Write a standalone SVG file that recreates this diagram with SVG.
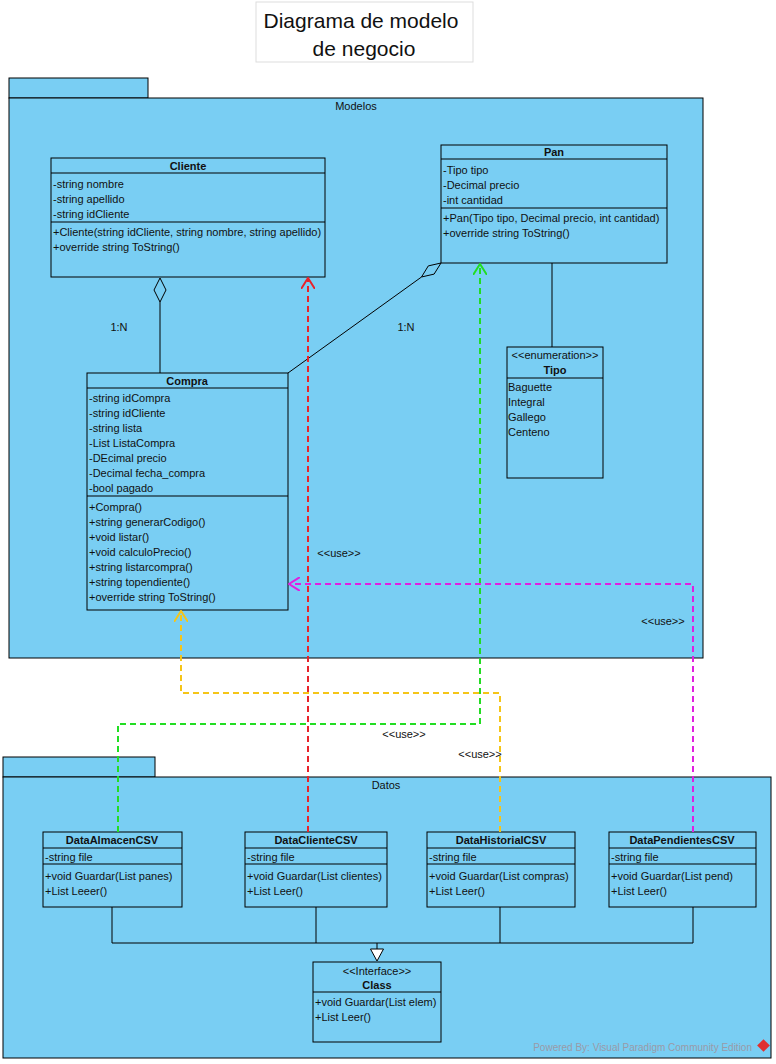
<svg xmlns="http://www.w3.org/2000/svg" width="776" height="1064" viewBox="0 0 776 1064">
<style>
text{font-family:"Liberation Sans",Arial,sans-serif;fill:#111}
.t{font-size:11px}
.b{font-size:11px;font-weight:bold}
.c{text-anchor:middle}
.box{fill:#79cef3;stroke:#000;stroke-width:1}
.ln{stroke:#000;stroke-width:1;fill:none}
.pkg{fill:#79cef3;stroke:#000;stroke-width:1}
.dr{stroke:#e8222a;stroke-width:2;stroke-dasharray:6,4;fill:none}
.dg{stroke:#22dd22;stroke-width:2;stroke-dasharray:6,4;fill:none}
.dy{stroke:#f5c518;stroke-width:2;stroke-dasharray:6,4;fill:none}
.dm{stroke:#e020e0;stroke-width:2;stroke-dasharray:6,4;fill:none}
</style>
<defs>
<marker id="ar" viewBox="0 0 12 14" refX="11" refY="7" markerWidth="12" markerHeight="14" markerUnits="userSpaceOnUse" orient="auto"><path d="M0,0 L11,7 L0,14" fill="none" stroke="#e8222a" stroke-width="2"/></marker>
<marker id="ag" viewBox="0 0 12 14" refX="11" refY="7" markerWidth="12" markerHeight="14" markerUnits="userSpaceOnUse" orient="auto"><path d="M0,0 L11,7 L0,14" fill="none" stroke="#22dd22" stroke-width="2"/></marker>
<marker id="ay" viewBox="0 0 12 14" refX="11" refY="7" markerWidth="12" markerHeight="14" markerUnits="userSpaceOnUse" orient="auto"><path d="M0,0 L11,7 L0,14" fill="none" stroke="#f5c518" stroke-width="2"/></marker>
<marker id="am" viewBox="0 0 12 14" refX="11" refY="7" markerWidth="12" markerHeight="14" markerUnits="userSpaceOnUse" orient="auto"><path d="M0,0 L11,7 L0,14" fill="none" stroke="#e020e0" stroke-width="2"/></marker>
</defs>
<rect width="776" height="1064" fill="#fff"/>

<g id="title">
<rect x="256" y="2" width="217" height="60" fill="#fff" stroke="#ddd"/>
<text x="361" y="28" class="c" style="font-size:21px">Diagrama de modelo</text>
<text x="364" y="56" class="c" style="font-size:21px">de negocio</text>
</g>

<g id="pkg-modelos">
<rect class="pkg" x="9" y="78" width="139" height="20"/>
<rect class="pkg" x="9" y="98" width="694" height="560"/>
<text x="356" y="110" class="t c">Modelos</text>
</g>

<g id="pkg-datos">
<rect class="pkg" x="3" y="757" width="152" height="20"/>
<rect class="pkg" x="3" y="777" width="768" height="281"/>
<text x="386" y="789" class="t c">Datos</text>
</g>

<g id="Cliente">
<rect class="box" x="51" y="158" width="274" height="119"/>
<line class="ln" x1="51" y1="173" x2="325" y2="173"/>
<line class="ln" x1="51" y1="222" x2="325" y2="222"/>
<text x="188" y="170" class="b c">Cliente</text>
<text x="53" y="188" class="t">-string nombre</text>
<text x="53" y="203" class="t">-string apellido</text>
<text x="53" y="218" class="t">-string idCliente</text>
<text x="53" y="236" class="t">+Cliente(string idCliente, string nombre, string apellido)</text>
<text x="53" y="251" class="t">+override string ToString()</text>
</g>

<g id="Pan">
<rect class="box" x="441" y="145" width="226" height="118"/>
<line class="ln" x1="441" y1="159" x2="667" y2="159"/>
<line class="ln" x1="441" y1="208" x2="667" y2="208"/>
<text x="554" y="156" class="b c">Pan</text>
<text x="443" y="174" class="t">-Tipo tipo</text>
<text x="443" y="189" class="t">-Decimal precio</text>
<text x="443" y="204" class="t">-int cantidad</text>
<text x="443" y="222" class="t">+Pan(Tipo tipo, Decimal precio, int cantidad)</text>
<text x="443" y="237" class="t">+override string ToString()</text>
</g>

<g id="Tipo">
<rect class="box" x="507" y="347" width="96" height="131"/>
<line class="ln" x1="507" y1="378" x2="603" y2="378"/>
<text x="555" y="359" class="t c">&lt;&lt;enumeration&gt;&gt;</text>
<text x="555" y="374" class="b c">Tipo</text>
<text x="508" y="391" class="t">Baguette</text>
<text x="508" y="406" class="t">Integral</text>
<text x="508" y="421" class="t">Gallego</text>
<text x="508" y="436" class="t">Centeno</text>
</g>

<g id="Compra">
<rect class="box" x="87" y="373" width="201" height="237"/>
<line class="ln" x1="87" y1="388" x2="288" y2="388"/>
<line class="ln" x1="87" y1="496" x2="288" y2="496"/>
<text x="187" y="385" class="b c">Compra</text>
<text x="89" y="402" class="t">-string idCompra</text>
<text x="89" y="417" class="t">-string idCliente</text>
<text x="89" y="432" class="t">-string lista</text>
<text x="89" y="447" class="t">-List ListaCompra</text>
<text x="89" y="462" class="t">-DEcimal precio</text>
<text x="89" y="477" class="t">-Decimal fecha_compra</text>
<text x="89" y="492" class="t">-bool pagado</text>
<text x="89" y="511" class="t">+Compra()</text>
<text x="89" y="526" class="t">+string generarCodigo()</text>
<text x="89" y="541" class="t">+void listar()</text>
<text x="89" y="556" class="t">+void calculoPrecio()</text>
<text x="89" y="571" class="t">+string listarcompra()</text>
<text x="89" y="586" class="t">+string topendiente()</text>
<text x="89" y="601" class="t">+override string ToString()</text>
</g>

<g id="DataAlmacenCSV">
<rect class="box" x="43" y="832" width="139" height="75"/>
<line class="ln" x1="43" y1="848" x2="182" y2="848"/>
<line class="ln" x1="43" y1="864" x2="182" y2="864"/>
<text x="112" y="844" class="b c">DataAlmacenCSV</text>
<text x="45" y="861" class="t">-string file</text>
<text x="45" y="880" class="t">+void Guardar(List panes)</text>
<text x="45" y="895" class="t">+List Leeer()</text>
</g>

<g id="DataClienteCSV">
<rect class="box" x="245" y="832" width="142" height="75"/>
<line class="ln" x1="245" y1="848" x2="387" y2="848"/>
<line class="ln" x1="245" y1="864" x2="387" y2="864"/>
<text x="316" y="844" class="b c">DataClienteCSV</text>
<text x="247" y="861" class="t">-string file</text>
<text x="247" y="880" class="t">+void Guardar(List clientes)</text>
<text x="247" y="895" class="t">+List Leer()</text>
</g>

<g id="DataHistorialCSV">
<rect class="box" x="427" y="832" width="148" height="75"/>
<line class="ln" x1="427" y1="848" x2="575" y2="848"/>
<line class="ln" x1="427" y1="864" x2="575" y2="864"/>
<text x="501" y="844" class="b c">DataHistorialCSV</text>
<text x="429" y="861" class="t">-string file</text>
<text x="429" y="880" class="t">+void Guardar(List compras)</text>
<text x="429" y="895" class="t">+List Leer()</text>
</g>

<g id="DataPendientesCSV">
<rect class="box" x="609" y="832" width="147" height="75"/>
<line class="ln" x1="609" y1="848" x2="756" y2="848"/>
<line class="ln" x1="609" y1="864" x2="756" y2="864"/>
<text x="682" y="844" class="b c">DataPendientesCSV</text>
<text x="611" y="861" class="t">-string file</text>
<text x="611" y="880" class="t">+void Guardar(List pend)</text>
<text x="611" y="895" class="t">+List Leer()</text>
</g>

<g id="Class">
<rect class="box" x="313" y="962" width="128" height="80"/>
<line class="ln" x1="313" y1="992" x2="441" y2="992"/>
<text x="377" y="975" class="t c">&lt;&lt;Interface&gt;&gt;</text>
<text x="377" y="989" class="b c">Class</text>
<text x="315" y="1006" class="t">+void Guardar(List elem)</text>
<text x="315" y="1021" class="t">+List Leer()</text>
</g>

<g id="connectors">
<line class="ln" x1="160" y1="302" x2="160" y2="373"/>
<polygon points="160,278 154,290 160,302 166,290" fill="#79cef3" stroke="#000"/>
<text x="119" y="331" class="t c">1:N</text>
<line class="ln" x1="421.5" y1="277" x2="288" y2="373"/>
<polygon points="441,263 434.1,274.1 421.5,277 428.3,265.9" fill="#79cef3" stroke="#000"/>
<text x="406" y="331" class="t c">1:N</text>
<line class="ln" x1="552" y1="263" x2="552" y2="347"/>

<polyline class="dr" points="308,832 308,278" marker-end="url(#ar)"/>
<polyline class="dg" points="118,832 118,724 480,724 480,264" marker-end="url(#ag)"/>
<polyline class="dy" points="500,832 500,693 181,693 181,611" marker-end="url(#ay)"/>
<polyline class="dm" points="693,832 693,584 289,584" marker-end="url(#am)"/>
<text x="339" y="557" class="t c">&lt;&lt;use&gt;&gt;</text>
<text x="663" y="625" class="t c">&lt;&lt;use&gt;&gt;</text>
<text x="404" y="738" class="t c">&lt;&lt;use&gt;&gt;</text>
<text x="480" y="758" class="t c">&lt;&lt;use&gt;&gt;</text>

<polyline class="ln" points="112,907 112,943 693,943 693,907"/>
<line class="ln" x1="316" y1="907" x2="316" y2="943"/>
<line class="ln" x1="500" y1="907" x2="500" y2="943"/>
<line class="ln" x1="377" y1="943" x2="377" y2="949"/>
<polygon points="370.5,949 383.5,949 377,961" fill="#fff" stroke="#000"/>
</g>

<g id="watermark">
<text x="752" y="1051" style="font-size:10px;fill:#9a9aa8;text-anchor:end">Powered By: Visual Paradigm Community Edition</text>
<rect x="759" y="1041" width="9" height="9" fill="#e03030" transform="rotate(45 763.5 1045.5)"/>
</g>
</svg>
